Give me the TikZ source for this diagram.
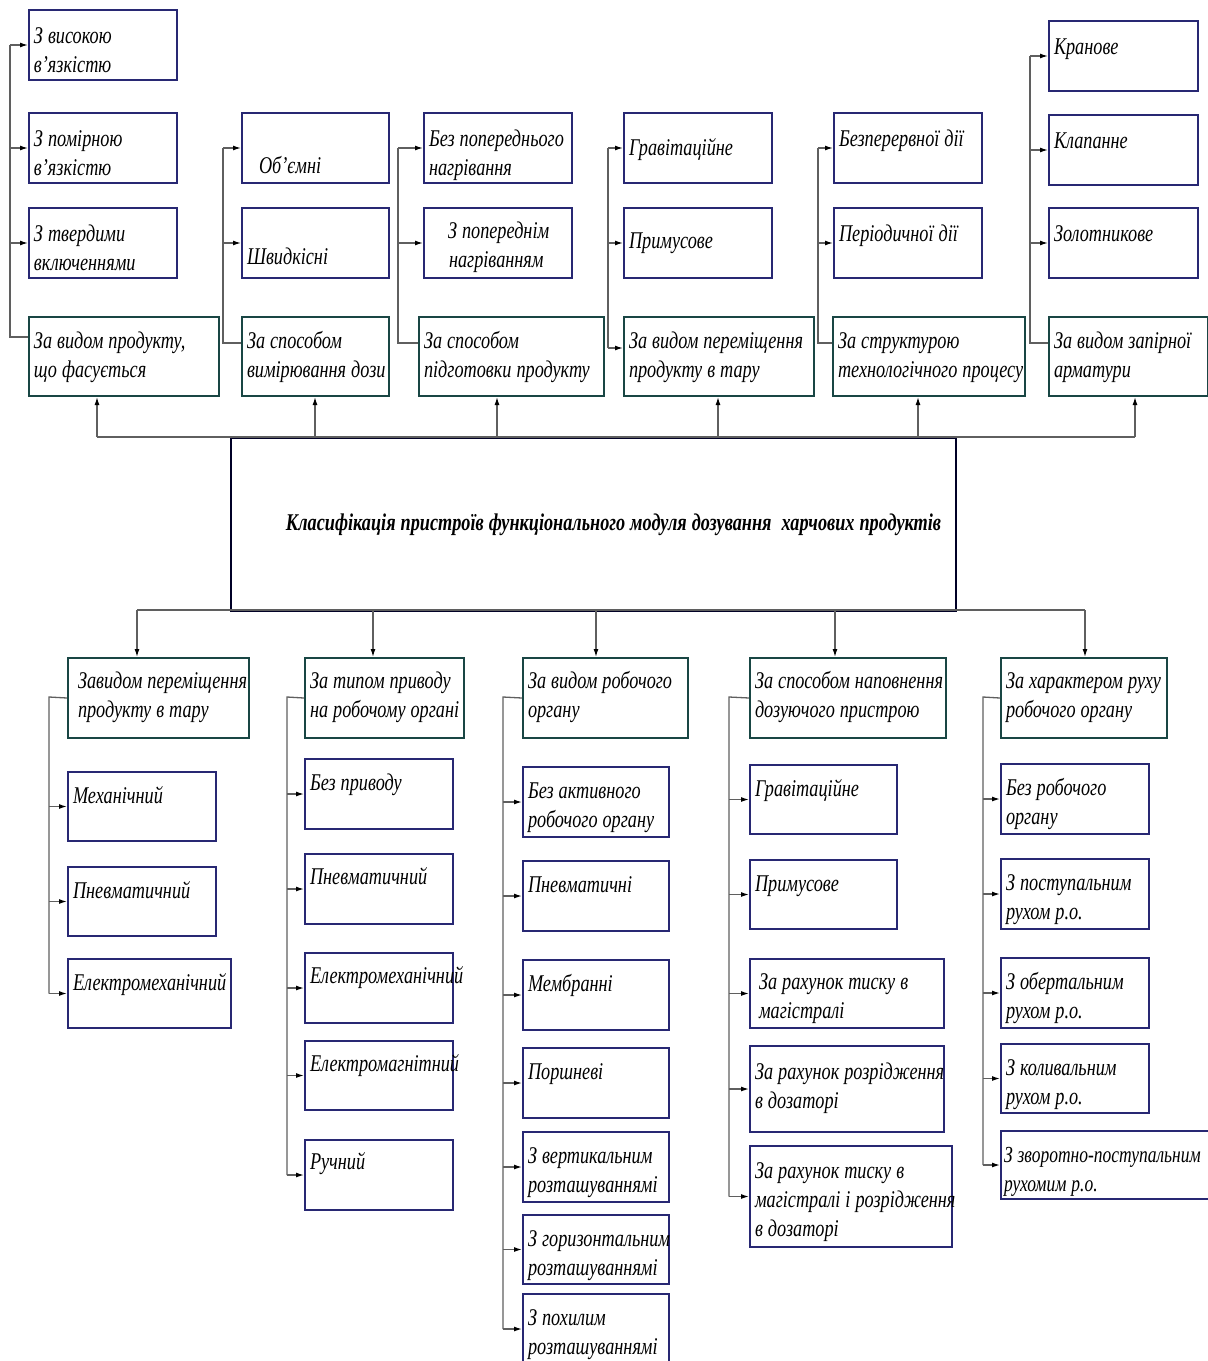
\documentclass[tikz,border=0pt]{standalone}
\usepackage{fontspec}
\setmainfont{Liberation Serif}[FakeStretch=0.76]
\usetikzlibrary{arrows.meta}
\definecolor{leafline}{RGB}{40,40,115}
\definecolor{groupline}{RGB}{25,70,68}
\definecolor{linkgray}{RGB}{95,95,95}
\newcommand{\tightspace}{\spaceskip=5pt plus 1pt minus 1pt\relax}
\newcommand{\boxline}[1]{\mbox{#1}}
\tikzset{
    box size/.code n args={3}{%
        \pgfmathsetlengthmacro\boxw{#1-10}%
        \pgfmathsetlengthmacro\boxh{#3}%
        \pgfmathsetlengthmacro\boxd{#2-#3}%
        \edef\boxset{\noexpand\pgfkeysalso{text width=\boxw, text height=\boxh, text depth=\boxd}}%
        \boxset
        },
    leaf/.style = {
        draw = leafline,
        line width = 2pt,
        anchor = north west,
        align = left,
        inner xsep = 5pt,
        inner ysep = 0pt,
        font = \fontsize{24}{29}\selectfont\itshape,
        execute at begin node = {\tightspace},
        },
    group/.style = {
        leaf,
        draw = groupline,
        },
    title/.style = {
        draw = black!85!blue,
        line width = 2pt,
        anchor = north west,
        minimum width = 725pt,
        minimum height = 173pt,
        font = \fontsize{24}{29}\selectfont\bfseries\itshape,
        execute at begin node = {\tightspace},
        },
    link/.style = {
        draw = linkgray,
        line width = 1.3pt,
        },
    link arrow/.style = {
        link,
        -{Latex[length=8pt,width=5pt,black]},
        },
}

\begin{document}
\begin{tikzpicture}[x=1pt,y=-1pt]
    \useasboundingbox (0,0) rectangle (1208,1361);

    % upper groups
    \node[leaf, box size={148}{70}{33}] (T1a) at (28,9) {\boxline{З високою}\\в’язкістю};
    \node[leaf, box size={148}{70}{33}] (T1b) at (28,112) {\boxline{З помірною}\\в’язкістю};
    \node[leaf, box size={148}{70}{33}] (T1c) at (28,207) {\boxline{З твердими}\\включеннями};
    \node[group, box size={190}{79}{31}] (T1) at (28,316) {\boxline{За видом продукту,}\\\boxline{що фасується}};

    \node[leaf, box size={147}{70}{60}] (T2a) at (241,112) {\hspace*{12pt}Об’ємні};
    \node[leaf, box size={147}{70}{56}] (T2b) at (241,207) {Швидкісні};
    \node[group, box size={147}{79}{31}] (T2) at (241,316) {\boxline{За способом}\\\boxline{вимірювання дози}};

    \node[leaf, box size={148}{70}{33}] (T3a) at (423,112) {\boxline{Без попереднього}\\нагрівання};
    \node[leaf, box size={148}{70}{30}] (T3b) at (423,207) {\hspace*{19pt}\boxline{З попереднім}\\\hspace*{20pt}нагріванням};
    \node[group, box size={185}{79}{31}] (T3) at (418,316) {\boxline{За способом}\\\boxline{підготовки продукту}};

    \node[leaf, box size={148}{70}{42}] (T4a) at (623,112) {Гравітаційне};
    \node[leaf, box size={148}{70}{40}] (T4b) at (623,207) {Примусове};
    \node[group, box size={190}{79}{31}] (T4) at (623,316) {\boxline{За видом переміщення}\\\boxline{продукту в тару}};

    \node[leaf, box size={148}{70}{33}] (T5a) at (833,112) {\boxline{Безперервної дії}};
    \node[leaf, box size={148}{70}{33}] (T5b) at (833,207) {\boxline{Періодичної дії}};
    \node[group, box size={192}{79}{31}] (T5) at (832,316) {\boxline{За структурою}\\\boxline{технологічного процесу}};

    \node[leaf, box size={149}{70}{33}] (T6a) at (1048,20) {Кранове};
    \node[leaf, box size={149}{70}{33}] (T6b) at (1048,114) {Клапанне};
    \node[leaf, box size={149}{70}{33}] (T6c) at (1048,207) {Золотникове};
    \node[group, box size={159}{79}{31}] (T6) at (1048,316) {\boxline{За видом запірної}\\арматури};

    % main box
    \node[title] (M) at (230,437) {\hspace*{40pt}Класифікація пристроїв функціонального модуля дозування\ \ харчових продуктів};

    % lower groups
    \node[group, box size={181}{80}{30}] (B1) at (67,657) {\hspace*{5pt}\boxline{Завидом переміщення}\\\hspace*{5pt}\boxline{продукту в тару}};
    \node[leaf, box size={148}{69}{31}] (B1a) at (67,771) {Механічний};
    \node[leaf, box size={148}{69}{31}] (B1b) at (67,866) {Пневматичний};
    \node[leaf, box size={163}{69}{31}] (B1c) at (67,958) {Електромеханічний};

    \node[group, box size={159}{80}{30}] (B2) at (304,657) {\boxline{За типом приводу}\\\boxline{на робочому органі}};
    \node[leaf, box size={148}{70}{31}] (B2a) at (304,758) {\boxline{Без приводу}};
    \node[leaf, box size={148}{70}{30}] (B2b) at (304,853) {Пневматичний};
    \node[leaf, box size={148}{70}{30}] (B2c) at (304,952) {Електромеханічний};
    \node[leaf, box size={148}{69}{30}] (B2d) at (304,1040) {Електромагнітний};
    \node[leaf, box size={148}{70}{29}] (B2e) at (304,1139) {Ручний};

    \node[group, box size={165}{80}{30}] (B3) at (522,657) {\boxline{За видом робочого}\\органу};
    \node[leaf, box size={146}{70}{31}] (B3a) at (522,766) {\boxline{Без активного}\\\boxline{робочого органу}};
    \node[leaf, box size={146}{70}{31}] (B3b) at (522,860) {Пневматичні};
    \node[leaf, box size={146}{70}{31}] (B3c) at (522,959) {Мембранні};
    \node[leaf, box size={146}{70}{31}] (B3d) at (522,1047) {Поршневі};
    \node[leaf, box size={146}{70}{31}] (B3e) at (522,1131) {\boxline{З вертикальним}\\розташуваннямі};
    \node[leaf, box size={146}{69}{31}] (B3f) at (522,1214) {\boxline{З горизонтальним}\\розташуваннямі};
    \node[leaf, box size={146}{70}{31}] (B3g) at (522,1293) {\boxline{З похилим}\\розташуваннямі};

    \node[group, box size={196}{80}{30}] (B4) at (749,657) {\boxline{За способом наповнення}\\\boxline{дозуючого пристрою}};
    \node[leaf, box size={147}{69}{31}] (B4a) at (749,764) {Гравітаційне};
    \node[leaf, box size={147}{69}{31}] (B4b) at (749,859) {Примусове};
    \node[leaf, box size={194}{69}{30}] (B4c) at (749,958) {\hspace*{4pt}\boxline{За рахунок тиску в}\\\hspace*{4pt}магістралі};
    \node[leaf, box size={194}{86}{33}] (B4d) at (749,1045) {\boxline{За рахунок розрідження}\\\boxline{в дозаторі}};
    \node[leaf, box size={202}{101}{32}] (B4e) at (749,1145) {\boxline{За рахунок тиску в}\\\boxline{магістралі і розрідження}\\\boxline{в дозаторі}};

    \node[group, box size={166}{80}{30}] (B5) at (1000,657) {\boxline{За характером руху}\\\boxline{робочого органу}};
    \node[leaf, box size={148}{70}{31}] (B5a) at (1000,763) {\boxline{Без робочого}\\органу};
    \node[leaf, box size={148}{70}{31}] (B5b) at (1000,858) {\boxline{З поступальним}\\\boxline{рухом р.о.}};
    \node[leaf, box size={148}{70}{31}] (B5c) at (1000,957) {\boxline{З обертальним}\\\boxline{рухом р.о.}};
    \node[leaf, box size={148}{69}{31}] (B5d) at (1000,1043) {\boxline{З коливальним}\\\boxline{рухом р.о.}};
    \node[leaf, box size={208}{68}{31}, font=\fontsize{23}{29}\selectfont\itshape] (B5e) at (1000,1130) {\hspace*{-2pt}\boxline{З зворотно-поступальним}\\\hspace*{-2pt}\boxline{рухомим р.о.}};

    % buses of the main box
    \coordinate (up1) at (97,437);
    \coordinate (up2) at (315,437);
    \coordinate (up3) at (497,437);
    \coordinate (up4) at (718,437);
    \coordinate (up5) at (918,437);
    \coordinate (up6) at (1135,437);
    \draw[link] (up1) -- (up6);
    \foreach \u/\g in {up1/T1,up2/T2,up3/T3,up4/T4,up5/T5,up6/T6}
        \draw[link arrow] (\u) -- (\u |- \g.south);

    \coordinate (dn1) at (137,610);
    \coordinate (dn2) at (373,610);
    \coordinate (dn3) at (596,610);
    \coordinate (dn4) at (835,610);
    \coordinate (dn5) at (1085,610);
    \draw[link] (dn1) -- (dn5);
    \foreach \d/\g in {dn1/B1,dn2/B2,dn3/B3,dn4/B4,dn5/B5}
        \draw[link arrow] (\d) -- (\d |- \g.north);

    % trunks of the upper groups
    \coordinate (T1s) at (10,337);
    \coordinate (T2s) at (223,343);
    \coordinate (T3s) at (398,343);
    \coordinate (T4s) at (608,348);
    \coordinate (T5s) at (818,343);
    \coordinate (T6s) at (1030,343);
    \draw[link] (T1.west |- T1s) -- (T1s) -- (T1s |- T1a.west);
    \draw[link] (T2.west |- T2s) -- (T2s) -- (T2s |- T2a.west);
    \draw[link] (T3.west |- T3s) -- (T3s) -- (T3s |- T3a.west);
    \draw[link] (T4s) -- (T4s |- T4a.west);
    \draw[link arrow] (T4s) -- (T4.west |- T4s);
    \draw[link] (T5.west |- T5s) -- (T5s) -- (T5s |- T5a.west);
    \draw[link] (T6.west |- T6s) -- (T6s) -- (T6s |- T6a.west);
    \foreach \s/\kids in {T1s/{T1a,T1b,T1c},T2s/{T2a,T2b},T3s/{T3a,T3b},
                          T4s/{T4a,T4b},T5s/{T5a,T5b},T6s/{T6a,T6b,T6c}}
        \foreach \k in \kids
            \draw[link arrow] (\s |- \k.west) -- (\k.west);

    % trunks of the lower groups
    \coordinate (B1s) at (49,697);
    \coordinate (B2s) at (287,697);
    \coordinate (B3s) at (503,697);
    \coordinate (B4s) at (729,697);
    \coordinate (B5s) at (983,697);
    \draw[link] (B1.west) -- (B1s) -- (B1s |- B1c.west);
    \draw[link] (B2.west) -- (B2s) -- (B2s |- B2e.west);
    \draw[link] (B3.west) -- (B3s) -- (B3s |- B3g.west);
    \draw[link] (B4.west) -- (B4s) -- (B4s |- B4e.west);
    \draw[link] (B5.west) -- (B5s) -- (B5s |- B5e.west);
    \foreach \s/\kids in {B1s/{B1a,B1b,B1c},B2s/{B2a,B2b,B2c,B2d,B2e},
                          B3s/{B3a,B3b,B3c,B3d,B3e,B3f,B3g},B4s/{B4a,B4b,B4c,B4d,B4e},
                          B5s/{B5a,B5b,B5c,B5d,B5e}}
        \foreach \k in \kids
            \draw[link arrow] (\s |- \k.west) -- (\k.west);
\end{tikzpicture}
\end{document}
